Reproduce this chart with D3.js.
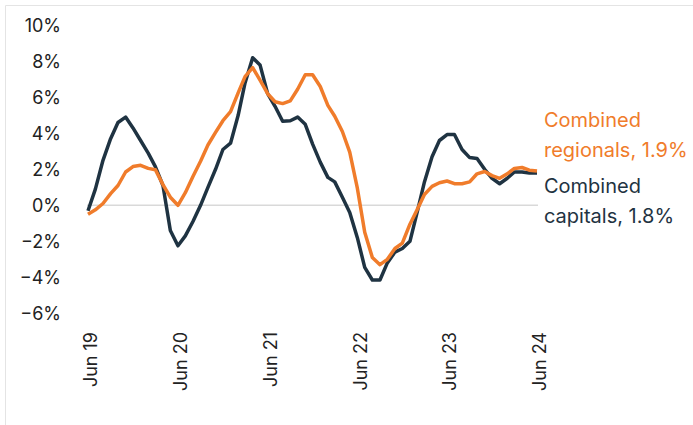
<!DOCTYPE html>
<html>
<head>
<meta charset="utf-8">
<script src="https://cdn.jsdelivr.net/npm/d3@7"></script>
<style>
  body { margin: 0; background: #fff; }
  svg { display: block; font-family: Inter, "Open Sans", sans-serif; }
</style>
</head>
<body>
<div class="canva-chart"></div>
<script>
// monthly annual growth, Jun 2019 .. Jun 2024 (61 months)
const capitals = [
  -0.3, 0.9, 2.5, 3.7, 4.6, 4.9, 4.3, 3.6, 2.9, 2.15,
  1.1, -1.4, -2.25, -1.7, -0.9, 0.0, 1.0, 2.0, 3.1, 3.45,
  5.0, 6.8, 8.2, 7.8, 6.2, 5.5, 4.67, 4.7, 4.9, 4.5,
  3.4, 2.4, 1.55, 1.3, 0.45, -0.4, -1.8, -3.45, -4.15, -4.15,
  -3.2, -2.6, -2.4, -2.0, -0.3, 1.3, 2.7, 3.6, 3.93, 3.93,
  3.1, 2.65, 2.6, 2.0, 1.5, 1.2, 1.5, 1.85, 1.85, 1.8,
  1.8
];
const regionals = [
  -0.5, -0.25, 0.1, 0.65, 1.1, 1.85, 2.15, 2.22, 2.05, 1.98,
  1.15, 0.45, 0.0, 0.7, 1.6, 2.45, 3.35, 4.05, 4.7, 5.2,
  6.25, 7.15, 7.65, 6.95, 6.2, 5.75, 5.65, 5.8, 6.45, 7.25,
  7.25, 6.6, 5.55, 4.95, 4.1, 2.95, 0.95, -1.5, -2.9, -3.3,
  -3.0, -2.4, -2.1, -1.05, -0.2, 0.6, 1.05, 1.25, 1.35, 1.2,
  1.2, 1.3, 1.75, 1.88, 1.65, 1.5, 1.75, 2.05, 2.1, 1.95,
  1.9
];
const xTickLabels = ["Jun 19", "Jun 20", "Jun 21", "Jun 22", "Jun 23", "Jun 24"];
const yTicks = [-6, -4, -2, 0, 2, 4, 6, 8, 10];
const seriesNames = ["Combined regionals, 1.9%", "Combined capitals, 1.8%"];

const width = 693, height = 425;
const navy = "#1f3342", orange = "#f07c2b";

const svg = d3.select(".canva-chart").append("svg")
    .attr("width", width)
    .attr("height", height);

// light frame on the left and top edges
svg.append("path")
    .attr("d", "M5.5,425V5.5H693")
    .attr("fill", "none")
    .attr("stroke", "#e4e4e4");

const start = new Date(2019, 5, 1);
const months = capitals.map((d, i) => d3.timeMonth.offset(start, i));

const x = d3.scaleTime()
    .domain([start, months[months.length - 1]])
    .range([88, 537]);

const y = d3.scaleLinear()
    .domain([-6, 10])
    .range([313.3, 25.3]);

// y axis labels
svg.append("g")
    .selectAll("text")
    .data(yTicks)
    .join("text")
    .attr("x", 61)
    .attr("y", d => y(d))
    .attr("dy", "0.35em")
    .attr("text-anchor", "end")
    .attr("fill", "#222")
    .style("font-size", "18px")
    .text(d => (d < 0 ? "\u2212" + Math.abs(d) : d) + "%");

// zero line
svg.append("line")
    .attr("x1", 87).attr("x2", 538)
    .attr("y1", y(0)).attr("y2", y(0))
    .attr("stroke", "#d9d9d9")
    .attr("stroke-width", 1.5);

// x axis labels, rotated
svg.append("g")
    .selectAll("text")
    .data(xTickLabels)
    .join("text")
    .attr("transform", (d, i) => `translate(${x(d3.timeYear.offset(start, i)) + 3},332) rotate(-90)`)
    .attr("dy", "0.35em")
    .attr("text-anchor", "end")
    .attr("fill", "#222")
    .style("font-size", "18px")
    .text(d => d);

const line = d3.line()
    .x((d, i) => x(months[i]))
    .y(d => y(d));

svg.append("path")
    .datum(capitals)
    .attr("fill", "none")
    .attr("stroke", navy)
    .attr("stroke-width", 3.5)
    .attr("stroke-linejoin", "round")
    .attr("d", line);

svg.append("path")
    .datum(regionals)
    .attr("fill", "none")
    .attr("stroke", orange)
    .attr("stroke-width", 3.5)
    .attr("stroke-linejoin", "round")
    .attr("d", line);

// end labels
const labels = [
  { lines: ["Combined", "regionals, 1.9%"], color: orange, y0: 127 },
  { lines: ["Combined", "capitals, 1.8%"], color: navy, y0: 193 }
];
labels.forEach(l => {
  const t = svg.append("text")
      .attr("x", 544)
      .attr("y", l.y0)
      .attr("fill", l.color)
      .style("font-size", "20px");
  l.lines.forEach((s, i) => {
    t.append("tspan")
        .attr("x", 544)
        .attr("dy", i ? 30 : 0)
        .text(s);
  });
});
</script>
</body>
</html>
